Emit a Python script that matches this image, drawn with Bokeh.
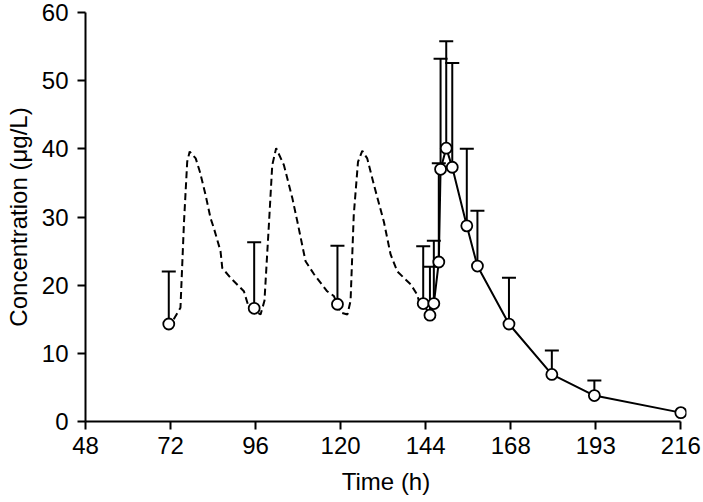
from bokeh.plotting import figure
from bokeh.models import Range1d, FixedTicker
from bokeh.embed import file_html
from bokeh.resources import INLINE

# Observed data (time in h, concentration in ug/L, mean + SD upper)
obs_time = [71.5, 95.6, 119.1, 143.3, 145.2, 146.3, 147.7, 148.2, 149.8, 151.5,
            155.6, 158.6, 167.5, 179.6, 191.6, 216.0]
obs_conc = [14.3, 16.6, 17.2, 17.3, 15.6, 17.3, 23.4, 37.0, 40.1, 37.3,
            28.7, 22.8, 14.3, 6.9, 3.8, 1.3]
obs_upper = [22.0, 26.3, 25.8, 25.7, 22.7, 26.5, 37.9, 53.2, 55.8, 52.6,
             40.0, 30.9, 21.1, 10.4, 6.0]

# Simulated profile (dashed)
sim_time = [72.9, 74.8, 75.8, 76.7, 77.4, 79.1, 80.3, 81.9, 83.3, 84.2, 86.1, 86.6,
            88.9, 92.7, 94.1, 97.4, 98.5, 99.8, 100.7, 101.8, 104.0, 106.4, 107.8,
            110.1, 112.5, 116.2, 118.1, 120.0, 121.9, 122.8, 123.7, 124.9, 126.1,
            127.5, 129.4, 132.2, 134.1, 136.0, 139.8, 141.6, 142.6]
sim_conc = [15.0, 16.7, 29.3, 38.1, 39.6, 38.6, 36.6, 33.2, 29.8, 28.4, 25.0, 22.5,
            21.1, 19.1, 16.7, 15.7, 17.7, 29.3, 37.6, 40.1, 37.6, 32.7, 29.3,
            23.5, 21.6, 19.1, 18.4, 16.0, 15.7, 17.7, 30.3, 38.1, 39.7,
            38.6, 34.7, 29.3, 24.5, 22.0, 20.1, 18.6, 16.7]

x_ticks = [48, 72, 96, 120, 144, 168, 192, 216]
x_tick_labels = {192: "193"}
y_ticks = [0, 10, 20, 30, 40, 50, 60]
x_title = "Time (h)"
y_title = "Concentration (μg/L)"

FONT = "Liberation Sans"
FS = "24px"

X0, X1 = 48, 216
X_END = 217.6  # a little room so the last marker is not clipped

W, H = 703, 502
BL, BR, BT, BB = 85, 17, 12, 81

p = figure(width=W, height=H, output_backend="svg", toolbar_location=None,
           x_range=Range1d(X0, X_END), y_range=Range1d(0, 60),
           min_border_left=BL, min_border_right=BR, min_border_top=BT,
           min_border_bottom=BB)
p.outline_line_color = None
p.grid.visible = False
p.background_fill_color = "white"
p.border_fill_color = "white"

for ax in (p.xaxis[0], p.yaxis[0]):
    ax.axis_line_width = 2
    ax.axis_line_color = "black"
    ax.major_tick_line_width = 2
    ax.major_tick_line_color = "black"
    ax.major_tick_out = 8
    ax.major_tick_in = 0
    ax.minor_tick_line_color = None
    ax.major_label_text_font = FONT
    ax.major_label_text_font_size = FS
    ax.major_label_text_color = "black"
    ax.axis_label_text_font = FONT
    ax.axis_label_text_font_size = FS
    ax.axis_label_text_font_style = "normal"
    ax.axis_label_text_color = "black"

p.xaxis.bounds = (X0, X1)
p.xaxis.ticker = FixedTicker(ticks=x_ticks)
p.xaxis.major_label_overrides = x_tick_labels
p.xaxis.major_label_standoff = 7
p.xaxis.axis_label = x_title
p.xaxis.axis_label_standoff = 11
p.yaxis.ticker = FixedTicker(ticks=y_ticks)
p.yaxis.major_label_standoff = 9
p.yaxis.axis_label = y_title
p.yaxis.axis_label_standoff = 7

# dashed simulated profile
p.line(sim_time, sim_conc, line_color="black", line_width=2, line_dash="7 4")

# solid observed line from the last dosing onward
p.line(obs_time[3:], obs_conc[3:], line_color="black", line_width=2)

# error bars (upper only)
n = len(obs_upper)
p.segment(x0=obs_time[:n], y0=obs_conc[:n], x1=obs_time[:n], y1=obs_upper,
          line_color="black", line_width=2)
p.scatter(obs_time[:n], obs_upper, marker="dash", size=14,
          line_color="black", line_width=2)

# markers
p.scatter(obs_time, obs_conc, marker="circle", size=11, fill_color="white",
          line_color="black", line_width=1.8)

open("out.html", "w").write(file_html(p, INLINE))
